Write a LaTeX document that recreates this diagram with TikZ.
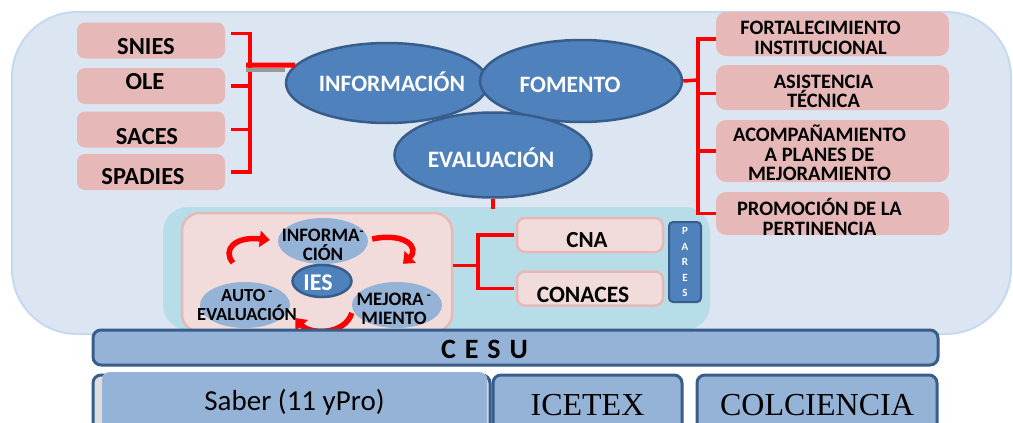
\documentclass[tikz,border=0pt]{standalone}
\usepackage{fontspec}
\setmainfont{Carlito}
\newfontfamily\serifnames{Liberation Serif}
\usetikzlibrary{shapes.geometric,arrows.meta}

\definecolor{bgBlue}{HTML}{DCE6F2}
\definecolor{bgEdge}{HTML}{C6D9F1}
\definecolor{boxPink}{HTML}{E6B9B8}
\definecolor{lightPink}{HTML}{F2DCDB}
\definecolor{ellFill}{HTML}{4F81BD}
\definecolor{ellEdge}{HTML}{385D8A}
\definecolor{cycFill}{HTML}{95B3D7}
\definecolor{cyanBg}{HTML}{B7DEE8}

\tikzset{
  srcbox/.style={rectangle, rounded corners=8pt, fill=boxPink, minimum width=148pt, minimum height=36pt},
  supbox/.style={rectangle, rounded corners=10pt, fill=boxPink, minimum width=233pt},
  boxtxt/.style={font=\bfseries\fontsize{24.5}{26}\selectfont},
  suptxt/.style={font=\bfseries\fontsize{20.5}{19.5}\selectfont, align=center},
  bigell/.style={ellipse, draw=ellEdge, line width=2.5pt, fill=ellFill, inner sep=0pt},
  elltxt/.style={font=\bfseries\fontsize{23.5}{25}\selectfont, text=white},
  cycell/.style={ellipse, fill=cycFill, minimum width=90pt, minimum height=46pt, inner sep=0pt},
  cyctxt/.style={font=\bfseries\fontsize{19}{19.5}\selectfont, align=center},
  agbox/.style={rectangle, rounded corners=8pt, draw=boxPink, line width=2.5pt, fill=lightPink, minimum width=146pt, minimum height=34pt},
  basebox/.style={rectangle, rounded corners=8pt, draw=ellEdge, line width=3pt, fill=cycFill},
  bracket/.style={red, line width=3.5pt},
  cycarrow/.style={red, line width=5.5pt, -{Triangle[width=16pt,length=10pt]}},
}

\begin{document}
\begin{tikzpicture}[x=1pt, y=-1pt]
    \clip (0,0) rectangle (1013,423);
    % backgrounds
    \draw[fill=bgBlue, draw=bgEdge, line width=2pt, rounded corners=65pt] (12,12) rectangle (1011,334);
    \fill[cyanBg, rounded corners=25pt] (163,207) rectangle (710,330);

    % sources on the left
    \node[srcbox, label={[boxtxt,shift={(-5,6.5)}]center:SNIES}] (snies) at (151,40.5) {};
    \node[srcbox, label={[boxtxt,shift={(-6,-4)}]center:OLE}] (ole) at (151,86) {};
    \node[srcbox, label={[boxtxt,shift={(-4,7.5)}]center:SACES}] (saces) at (151,129.5) {};
    \node[srcbox, label={[boxtxt,shift={(-8,5)}]center:SPADIES}] (spadies) at (151,172) {};

    % support lines on the right
    \node[supbox, minimum height=44pt, label={[suptxt,shift={(-12,4)}]center:{FORTALECIMIENTO\\INSTITUCIONAL}}] (fort) at (832.5,34) {};
    \node[supbox, minimum height=45pt, label={[suptxt,shift={(-9,4)}]center:{ASISTENCIA\\TÉCNICA}}] (asis) at (832.5,87.5) {};
    \node[supbox, minimum height=62pt, label={[suptxt,shift={(-13,2)}]center:{ACOMPAÑAMIENTO\\A PLANES DE\\MEJORAMIENTO}}] (acom) at (832.5,151) {};
    \node[supbox, minimum height=43pt, label={[suptxt,shift={(-13,3.5)}]center:{PROMOCIÓN DE LA\\PERTINENCIA}}] (prom) at (832.5,213.5) {};

    % three functions
    \node[bigell, minimum width=202pt, minimum height=80pt, label={[elltxt,shift={(5,-1)}]center:INFORMACIÓN}] (info) at (387,83) {};
    \node[bigell, minimum width=202pt, minimum height=82pt, label={[elltxt,shift={(-11,4)}]center:FOMENTO}] (foment) at (581,81) {};
    \node[bigell, minimum width=197pt, minimum height=85pt, label={[elltxt,shift={(-2,3)}]center:EVALUACIÓN}] (evalu) at (493,155) {};

    % left bracket
    \coordinate (lknot) at (250,65);
    \draw[bracket] ([shift={(6,-7)}]snies.east) -| (lknot |- spadies.east) -- ([xshift=6pt]spadies.east);
    \draw[bracket] ([xshift=6pt]ole.east) -- (lknot |- ole.east);
    \draw[bracket] ([xshift=6pt]saces.east) -- (lknot |- saces.east);
    \draw[gray!80, line width=4pt] ([shift={(-4,5)}]lknot) -- ++(39,0);
    \draw[red, line width=5pt] ([xshift=-4pt]lknot) -- (info.169);

    % right bracket
    \coordinate (rknot) at (698,80);
    \draw[bracket] (foment.east) -- (rknot);
    \draw[bracket] ([yshift=-5pt]fort.west) -| (rknot |- prom.west) -- (prom.west);
    \draw[bracket] ([yshift=-6pt]asis.west) -- ++(-18,0);
    \draw[bracket] (acom.west) -- ++(-18,0);
    \draw[bracket] (evalu.south) -- ++(0,10);

    % institutions cycle
    \node[rectangle, rounded corners=18pt, draw=boxPink, line width=2.5pt, fill=lightPink, minimum width=270pt, minimum height=119pt] (cycle) at (317,272.5) {};
    \node[cycell, label={[cyctxt,shift={(0,4)}]center:{INFORMA\textsuperscript{-}\\CIÓN}}] (cinfo) at (323,241) {};
    \node[cycell, label={[cyctxt,font=\bfseries\fontsize{18.5}{18.5}\selectfont,shift={(2,0)}]center:{AUTO\,\textsuperscript{-}\\EVALUACIÓN}}] (cauto) at (245,305) {};
    \node[cycell, label={[cyctxt,shift={(-3,4)}]center:{MEJORA\,\textsuperscript{-}\\MIENTO}}] (cmejora) at (397,305) {};
    \node[bigell, minimum width=59pt, minimum height=32pt, label={[elltxt,font=\bfseries\fontsize{24}{25}\selectfont,shift={(-4,2)}]center:IES}] (ies) at (322,281) {};
    \draw[cycarrow] ([shift={(-12,-19)}]cauto.north) .. controls +(-11,-13) and +(-35,-4) .. ([shift={(-8,-1)}]cinfo.west);
    \draw[cycarrow] ([shift={(4,-2)}]cinfo.east) .. controls +(33,-7) and +(17,-16) .. ([shift={(6,-18)}]cmejora.north);
    \draw[cycarrow] ([shift={(0,8)}]cmejora.west) .. controls +(-7,22) and +(15,17) .. ([shift={(5,13)}]cauto.east);

    % accreditation
    \node[agbox, label={[boxtxt,font=\bfseries\fontsize{23}{24}\selectfont,shift={(-3,5)}]center:CNA}] (cna) at (590,235) {};
    \node[agbox, label={[boxtxt,font=\bfseries\fontsize{23.5}{24}\selectfont,shift={(-7,6.5)}]center:CONACES}] (conaces) at (590,288.5) {};
    \node[rectangle, rounded corners=4pt, draw=ellEdge, line width=2pt, fill=ellFill, minimum width=32pt, minimum height=80pt, text=white, font=\bfseries\fontsize{11}{15.5}\selectfont, align=center] (pares) at (685,262) {P\\A\\R\\E\\S};
    \draw[bracket] ([yshift=7pt]cycle.east) -- ++(27,0);
    \draw[bracket] ([xshift=-2pt]cna.west) -| ([xshift=-38pt]conaces.west) -- ([xshift=-2pt]conaces.west);

    % base
    \node[basebox, minimum width=845pt, minimum height=35pt, label={[font=\bfseries\fontsize{28}{30}\selectfont,shift={(-31,2)}]center:C\hspace{9pt}E\hspace{9pt}S\hspace{9pt}U}] (cesu) at (515.5,347.5) {};
    \node[basebox, fill=gray!25, minimum width=397pt, minimum height=60pt] (saberbk) at (291.5,405) {};
    \node[rectangle, rounded corners=8pt, fill=cycFill, draw=cycFill!70!white, minimum width=385pt, minimum height=60pt, font=\fontsize{29}{31}\selectfont] (saber) at (294.5,402) {Saber (11 yPro)};
    \node[basebox, minimum width=189pt, minimum height=60pt, font=\serifnames\fontsize{32}{34}\selectfont] (icetex) at (587.5,405) {ICETEX};
    \node[basebox, minimum width=240pt, minimum height=60pt, font=\serifnames\fontsize{32}{34}\selectfont] (colc) at (817,405) {COLCIENCIA};
\end{tikzpicture}
\end{document}
